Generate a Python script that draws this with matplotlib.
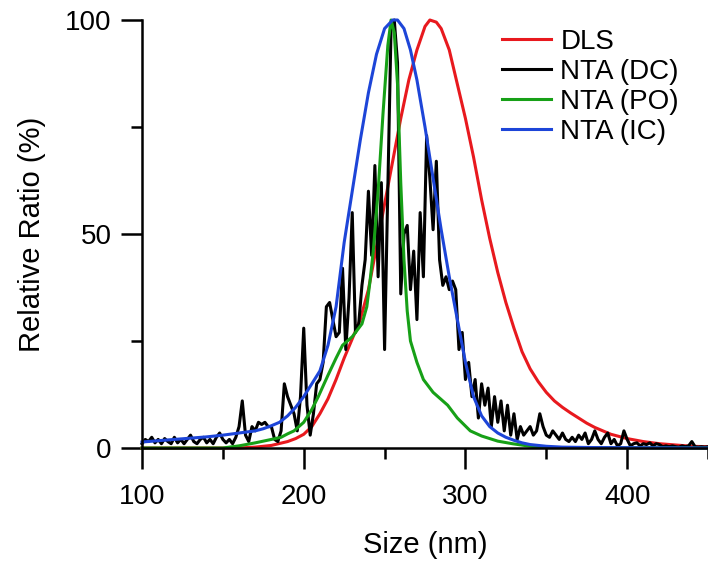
#%% 모듈
import numpy as np
import matplotlib
matplotlib.use('Agg')
import matplotlib.pyplot as plt
from matplotlib.ticker import MultipleLocator

plt.rcParams['font.family'] = ['Liberation Sans', 'DejaVu Sans']

#%% 데이터

# DLS
dls_size = [100, 150, 160, 170, 180, 190, 195, 200, 205, 210, 215, 220, 225, 230, 235,
            240, 245, 250, 255, 260, 265, 270, 275, 278, 282, 285, 290, 295, 300, 305,
            310, 315, 320, 325, 330, 335, 340, 345, 350, 355, 360, 365, 370, 375, 380,
            390, 400, 410, 420, 430, 440, 450]
dls_ratio = [0, 0, 0, 0.2, 0.6, 1.5, 2.2, 3.2, 5, 8, 11.5, 16, 21, 25.5, 30,
             37, 47, 57, 67, 77, 86, 93, 98.5, 100, 99.5, 98, 93, 85, 77, 68,
             58, 49, 41, 34, 28, 22.5, 18.5, 15.5, 13, 11, 9.5, 8.2, 7, 5.8, 4.8,
             3.2, 2.2, 1.5, 1, 0.7, 0.4, 0.3]

# NTA (DC) - 잡음이 많은 원자료
dc_size = list(range(100, 452, 2))
dc_ratio = [1, 2, 1.5, 2.5, 1.2, 2, 1, 2.2, 1.5, 1, 2.5, 1.2, 2, 1, 2, 3, 1.5, 1, 2, 2.5,
            1.2, 2, 1, 2.5, 3.5, 2, 1.2, 2, 1, 2.5, 5, 11, 3, 1.5, 5, 4, 6, 5.5, 6, 5,
            5, 2, 1.5, 4, 15, 12, 10, 8, 4, 12, 28, 10, 3, 8, 15, 16, 20, 33, 34, 30,
            26, 27, 42, 23, 35, 55, 27, 29, 38, 44, 60, 45, 66, 40, 62, 23, 60, 98, 100, 90,
            36, 50, 52, 37, 46, 30, 55, 40, 73, 63, 51, 67, 44, 38, 40, 37, 39, 37, 23, 27,
            16, 20, 12, 16, 7, 15, 10, 14, 5, 12, 6, 11, 4, 10, 3, 8, 2, 5, 3, 4,
            5, 3, 4, 8, 5, 3, 2.5, 4, 3, 2, 3.5, 2, 1.5, 2.5, 1.5, 3, 2, 3.5, 1, 2,
            4, 2, 1, 2.5, 3.5, 1, 2, 0.5, 1, 4, 2, 0.5, 1, 1.2, 0.5, 1, 0.8, 1.2, 0.5, 1,
            0.8, 0.3, 0.5, 0.3, 0.5, 0.3, 0.2, 0.5, 0.3, 0.5, 1.5, 0.3, 0.2, 0.3, 0.2, 0.3]

# NTA (PO)
po_size = [100, 150, 160, 170, 180, 186, 190, 194, 200, 205, 209, 215, 220, 224, 230,
           236, 239, 241, 243, 246, 249, 252, 254, 256, 258, 260, 262, 264, 266, 270, 274,
           280, 289, 295, 303, 310, 320, 329, 340, 350, 450]
po_ratio = [0, 0, 0.5, 1.2, 2, 2.5, 3.3, 4, 6, 9, 12, 17, 21, 24, 26,
            29, 33, 39, 46, 60, 78, 94, 100, 97, 85, 62, 44, 32, 25, 20, 16,
            13, 10, 7, 4, 2.8, 1.6, 1, 0.4, 0.1, 0]

# NTA (IC)
ic_size = [100, 110, 120, 130, 140, 150, 160, 170, 175, 180, 185, 190, 195, 200, 205,
           210, 215, 220, 225, 230, 235, 240, 245, 250, 255, 258, 262, 266, 270, 275,
           280, 285, 290, 295, 300, 305, 310, 315, 320, 325, 330, 335, 340, 350, 360,
           380, 450]
ic_ratio = [1.4, 1.7, 2, 2.3, 2.6, 3, 3.5, 4, 4.5, 5.2, 6, 7.5, 9.5, 12, 15,
            18, 24, 33, 48, 60, 72, 83, 92, 98, 100, 100, 98, 93, 86, 75,
            63, 51, 40, 30, 20, 12, 7.5, 5, 3.5, 2.5, 1.8, 1.2, 0.8, 0.4, 0.2,
            0.1, 0]

labels = ['DLS', 'NTA (DC)', 'NTA (PO)', 'NTA (IC)']
colors = ['#e8191e', 'black', '#17a017', '#1d45d8']

#%% 그래프
fig = plt.figure(figsize = (7.08, 5.67), dpi = 100)
ax = fig.add_axes([0.2006, 0.2099, 0.7994, 0.7548])

series = [(dls_size, dls_ratio), (dc_size, dc_ratio), (po_size, po_ratio), (ic_size, ic_ratio)]
for (sx, sy), lab, c in zip(series, labels, colors):
    ax.plot(sx, sy, color = c, lw = 2.2, label = lab, clip_on = False)

ax.set_xlim(100, 450)
ax.set_ylim(0, 100)

ax.spines['top'].set_visible(False)
ax.spines['right'].set_visible(False)
ax.spines['left'].set_linewidth(1.8)
ax.spines['bottom'].set_linewidth(1.8)

ax.xaxis.set_major_locator(MultipleLocator(100))
ax.xaxis.set_minor_locator(MultipleLocator(50))
ax.yaxis.set_major_locator(MultipleLocator(50))
ax.yaxis.set_minor_locator(MultipleLocator(25))
ax.tick_params(which = 'major', length = 15, width = 1.8, labelsize = 20)
ax.tick_params(axis = 'x', which = 'major', pad = 11)
ax.tick_params(axis = 'y', which = 'major', pad = 7)
ax.tick_params(which = 'minor', length = 8, width = 1.8)

ax.set_xlabel('Size (nm)', fontsize = 21, labelpad = 15)
ax.set_ylabel('Relative Ratio (%)', fontsize = 21, labelpad = 14)

ax.legend(loc = 'upper left', bbox_to_anchor = (502 / 708, 1 - 29 / 567),
          bbox_transform = fig.transFigure, frameon = False,
          fontsize = 20, handlelength = 1.75, labelspacing = 0.14,
          handletextpad = 0.35, borderpad = 0, borderaxespad = 0)

fig.savefig('out.png', dpi = 100)
